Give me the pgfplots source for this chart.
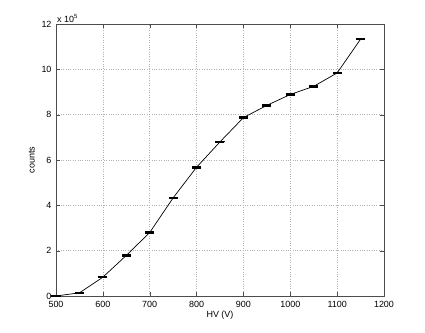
\documentclass[border=0pt]{standalone}
\usepackage{pgfplots}
\pgfplotsset{compat=1.18}
\usepackage{fontspec}
\setmainfont{Liberation Sans}

\pgfplotstableread{
hv   cnt    err
500  0.00   0.00
550  0.14   0.02
600  0.83   0.02
650  1.79   0.02
700  2.80   0.02
750  4.33   0.02
800  5.68   0.02
850  6.80   0.02
900  7.87   0.02
950  8.41   0.02
1000 8.89   0.02
1050 9.25   0.02
1100 9.84   0.02
1150 11.33  0.02
}\hvdata

\begin{document}
\begin{tikzpicture}[font=\fontsize{9}{10.5}\selectfont]
\begin{axis}[
  scale only axis,
  width=328bp, height=272bp,
  xmin=500, xmax=1200,
  ymin=0, ymax=12,
  xtick={500,600,...,1200},
  ytick={0,2,...,12},
  tick align=inside,
  major tick length=4bp,
  axis line style={black!70},
  tick style={black!70},
  grid=major,
  major grid style={dotted, black!30, line width=0.5bp},
  xlabel={HV (V)},
  ylabel={counts},
  xticklabel style={yshift=-1.5bp},
  yticklabel style={xshift=-1bp},
  xlabel style={yshift=3bp},
  /pgf/number format/assume math mode=true,
  /pgf/number format/1000 sep={},
  clip=false,
]
\addplot[black, line width=0.7bp, mark=none,
  error bars/.cd, y dir=both, y explicit,
  error mark options={rotate=90, mark size=4.5bp, line width=1.6bp, black}]
  table[x=hv, y=cnt, y error=err] {\hvdata};
\node[anchor=south west, inner sep=1bp] at (rel axis cs:0,1) {x 10\textsuperscript{5}};
\end{axis}
\pgfresetboundingbox
\path (-56bp,-37bp) rectangle (369bp,296bp);
\end{tikzpicture}
\end{document}
